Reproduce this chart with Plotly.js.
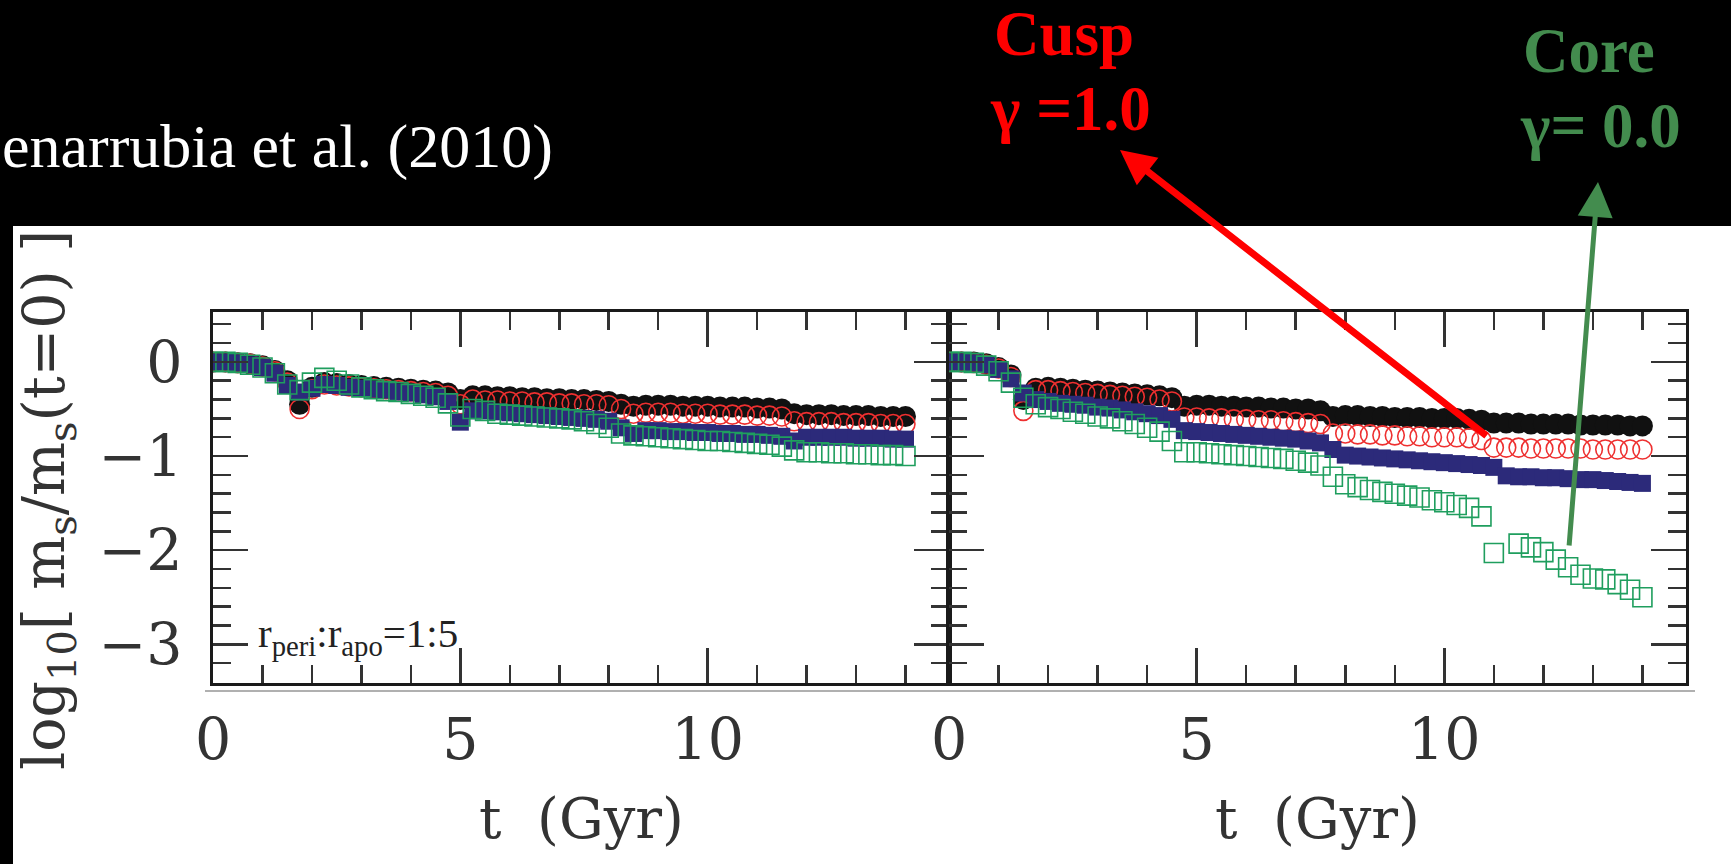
<!DOCTYPE html>
<html><head><meta charset="utf-8">
<script src="https://cdn.plot.ly/plotly-3.0.1.min.js"></script>
<style>html,body{margin:0;padding:0;background:#000;overflow:hidden}#chart{width:1731px;height:864px}</style>
</head><body><div id="chart"></div><script>
// time samples (Gyr)
const timeGyr = [0,0.25,0.5,0.75,1,1.25,1.5,1.75,2,2.25,2.5,2.75,3,3.25,3.5,3.75,4,4.25,4.5,4.75,5,5.25,5.5,5.75,6,6.25,6.5,6.75,7,7.25,7.5,7.75,8,8.25,8.5,8.75,9,9.25,9.5,9.75,10,10.25,10.5,10.75,11,11.25,11.5,11.75,12,12.25,12.5,12.75,13,13.25,13.5,13.75,14];

// Left panel (r_peri:r_apo = 1:5)
const leftBlack = [0,0,-0.01,-0.02,-0.04,-0.09,-0.20,-0.45,-0.27,-0.22,
 -0.23,-0.24,-0.25,-0.26,-0.27,-0.28,-0.29,-0.30,-0.31,-0.33,
 -0.40,-0.36,-0.36,-0.37,-0.37,-0.38,-0.38,-0.39,-0.39,-0.40,
 -0.40,-0.41,-0.42,-0.45,-0.47,-0.46,-0.46,-0.46,-0.47,-0.47,
 -0.47,-0.48,-0.48,-0.48,-0.49,-0.49,-0.50,-0.55,-0.56,-0.56,
 -0.56,-0.57,-0.57,-0.57,-0.58,-0.58,-0.58];
const leftRed = [0,0,-0.01,-0.02,-0.05,-0.10,-0.22,-0.50,-0.29,-0.24,
 -0.25,-0.26,-0.27,-0.28,-0.29,-0.30,-0.31,-0.32,-0.33,-0.36,
 -0.45,-0.40,-0.41,-0.41,-0.42,-0.42,-0.43,-0.43,-0.44,-0.44,
 -0.45,-0.45,-0.46,-0.50,-0.55,-0.54,-0.54,-0.54,-0.55,-0.55,
 -0.55,-0.56,-0.56,-0.56,-0.57,-0.57,-0.58,-0.63,-0.64,-0.64,
 -0.64,-0.65,-0.65,-0.65,-0.66,-0.66,-0.66];
const leftBlue = [0,0,-0.01,-0.03,-0.06,-0.12,-0.25,-0.32,-0.28,-0.24,
 -0.25,-0.27,-0.28,-0.29,-0.30,-0.32,-0.33,-0.35,-0.37,-0.42,
 -0.64,-0.52,-0.52,-0.53,-0.54,-0.55,-0.56,-0.57,-0.58,-0.59,
 -0.60,-0.61,-0.63,-0.70,-0.76,-0.73,-0.73,-0.74,-0.74,-0.75,
 -0.75,-0.76,-0.76,-0.77,-0.77,-0.78,-0.79,-0.84,-0.80,-0.80,
 -0.80,-0.80,-0.81,-0.81,-0.81,-0.82,-0.82];
const leftGreen = [0,0,-0.01,-0.03,-0.06,-0.12,-0.24,-0.30,-0.22,-0.17,
 -0.20,-0.24,-0.27,-0.29,-0.31,-0.32,-0.34,-0.36,-0.38,-0.44,
 -0.58,-0.50,-0.52,-0.55,-0.56,-0.57,-0.58,-0.59,-0.60,-0.61,
 -0.63,-0.66,-0.70,-0.76,-0.78,-0.79,-0.80,-0.81,-0.82,-0.83,
 -0.84,-0.84,-0.85,-0.86,-0.87,-0.88,-0.90,-0.94,-0.96,-0.96,
 -0.97,-0.97,-0.98,-0.98,-0.99,-0.99,-1.00];

// Right panel
const rightBlack = [0,0,0,-0.02,-0.06,-0.14,-0.40,-0.28,-0.27,-0.28,
 -0.29,-0.30,-0.31,-0.32,-0.33,-0.34,-0.35,-0.36,-0.38,-0.47,
 -0.46,-0.46,-0.47,-0.47,-0.48,-0.48,-0.49,-0.49,-0.50,-0.50,
 -0.52,-0.58,-0.57,-0.57,-0.58,-0.58,-0.59,-0.59,-0.59,-0.60,
 -0.60,-0.60,-0.61,-0.62,-0.65,-0.65,-0.65,-0.66,-0.66,-0.66,
 -0.66,-0.67,-0.67,-0.67,-0.67,-0.68,-0.68];
const rightRed = [0,0,-0.01,-0.03,-0.07,-0.16,-0.52,-0.30,-0.30,-0.31,
 -0.32,-0.33,-0.34,-0.35,-0.36,-0.37,-0.38,-0.40,-0.42,-0.59,
 -0.59,-0.60,-0.60,-0.61,-0.61,-0.62,-0.62,-0.63,-0.64,-0.65,
 -0.66,-0.76,-0.76,-0.77,-0.77,-0.78,-0.78,-0.79,-0.79,-0.80,
 -0.80,-0.80,-0.81,-0.83,-0.91,-0.91,-0.91,-0.92,-0.92,-0.92,
 -0.92,-0.92,-0.93,-0.93,-0.93,-0.93,-0.93];
const rightBlue = [0,0,-0.01,-0.03,-0.08,-0.18,-0.33,-0.40,-0.42,-0.44,
 -0.45,-0.46,-0.48,-0.49,-0.51,-0.53,-0.55,-0.57,-0.61,-0.73,
 -0.74,-0.75,-0.76,-0.77,-0.78,-0.79,-0.80,-0.81,-0.82,-0.84,
 -0.86,-0.93,-0.99,-1.00,-1.01,-1.02,-1.03,-1.04,-1.05,-1.06,
 -1.07,-1.08,-1.09,-1.10,-1.12,-1.21,-1.22,-1.22,-1.23,-1.23,
 -1.24,-1.25,-1.25,-1.26,-1.27,-1.28,-1.29];
const rightGreen = [0,0,-0.01,-0.04,-0.10,-0.22,-0.38,-0.45,-0.48,-0.50,
 -0.53,-0.55,-0.58,-0.60,-0.63,-0.66,-0.70,-0.74,-0.84,-0.96,
 -0.96,-0.97,-0.98,-0.99,-1.00,-1.01,-1.02,-1.03,-1.05,-1.07,
 -1.10,-1.22,-1.30,-1.33,-1.36,-1.38,-1.40,-1.42,-1.44,-1.47,
 -1.49,-1.52,-1.55,-1.64,-2.03,null,-1.93,-1.97,-2.02,-2.10,
 -2.18,-2.26,-2.30,-2.31,-2.36,-2.42,-2.50];

const xTickLabels = ['0','5','10'];
const yTickLabels = ['0','\u22121','\u22122','\u22123'];

const W = 1731, H = 864;
const fx = p => p / W;
const fy = p => 1 - p / H;

const styles = {
  black: {symbol:'circle', size:21, color:'#111111', line:{width:0}},
  red:   {symbol:'circle-open', size:19, color:'#ee3030', line:{width:1.6, color:'#ee3030'}},
  blue:  {symbol:'square', size:17, color:'#2c2a7a', line:{width:0}},
  green: {symbol:'square-open', size:19, color:'#1f9e5e', line:{width:1.6, color:'#1f9e5e'}}
};
function tr(y, xa, ya, st){
  return {type:'scatter', mode:'markers', x: timeGyr, y: y, xaxis: xa, yaxis: ya,
          marker: styles[st], hoverinfo:'skip', showlegend:false, cliponaxis:true};
}
const data = [
  tr(leftBlack,'x','y','black'), tr(leftRed,'x','y','red'), tr(leftBlue,'x','y','blue'), tr(leftGreen,'x','y','green'),
  tr(rightBlack,'x2','y2','black'), tr(rightRed,'x2','y2','red'), tr(rightBlue,'x2','y2','blue'), tr(rightGreen,'x2','y2','green')
];

const tickFont = {family:'DejaVu Serif', size:57, color:'#333'};
const common = {
  showgrid:false, zeroline:false, showline:true, linecolor:'#1a1a1a', linewidth:3,
  mirror:'ticks', ticks:'inside', ticklen:35, tickwidth:2.5, tickcolor:'#333', tickfont: tickFont
};
const xMinor = {tick0:0, dtick:1, ticklen:18, tickwidth:2.5, tickcolor:'#333', ticks:'inside', showgrid:false};
const yMinor = {tick0:0, dtick:0.2, ticklen:18, tickwidth:2.5, tickcolor:'#333', ticks:'inside', showgrid:false};
const xDom1 = [fx(213), fx(949)], xDom2 = [fx(949), fx(1686)], yDom = [fy(683), fy(312)];

const titleFont = {family:'DejaVu Serif', size:56, color:'#333'};

const layout = {
  width: W, height: H,
  paper_bgcolor:'#000000', plot_bgcolor:'#ffffff',
  margin:{l:0,r:0,t:0,b:0,pad:0},
  showlegend:false,
  xaxis: Object.assign({}, common, {domain:xDom1, range:[-0.001,14.88], anchor:'y',
          tickmode:'array', tickvals:[0,5,10], ticktext:xTickLabels, minor:xMinor, ticklabelstandoff:5}),
  yaxis: Object.assign({}, common, {domain:yDom, range:[-3.41,0.53], anchor:'x',
          tickmode:'array', tickvals:[0,-1,-2,-3], ticktext:yTickLabels, minor:yMinor, ticklabelstandoff:16}),
  xaxis2: Object.assign({}, common, {domain:xDom2, range:[-0.001,14.88], anchor:'y2',
          tickmode:'array', tickvals:[0,5,10], ticktext:xTickLabels, minor:xMinor, ticklabelstandoff:5}),
  yaxis2: Object.assign({}, common, {domain:yDom, range:[-3.41,0.53], anchor:'x2',
          tickmode:'array', tickvals:[0,-1,-2,-3], showticklabels:false, minor:yMinor}),
  shapes: [
    {type:'rect', xref:'paper', yref:'paper', x0:fx(13), x1:1, y0:0, y1:fy(226),
     fillcolor:'#ffffff', line:{width:0}, layer:'below'},
    {type:'line', xref:'paper', yref:'paper', x0:fx(205), x1:fx(1695), y0:fy(691), y1:fy(691),
     line:{color:'#b0b0b0', width:2}}
  ],
  annotations: [
    {xref:'paper', yref:'paper', x:0, y:fy(146), xanchor:'left', yanchor:'middle', showarrow:false,
     text:'enarrubia et al. (2010)', font:{family:'Liberation Serif', size:62, color:'#ffffff'}},
    {xref:'paper', yref:'paper', x:fx(1064), y:fy(34), xanchor:'center', yanchor:'middle', showarrow:false,
     text:'<b>Cusp</b>', font:{family:'Liberation Serif', size:63, color:'#ff0000'}},
    {xref:'paper', yref:'paper', x:fx(1070), y:fy(109), xanchor:'center', yanchor:'middle', showarrow:false,
     text:'<b>γ =1.0</b>', font:{family:'Liberation Serif', size:63, color:'#ff0000'}},
    {xref:'paper', yref:'paper', x:fx(1589), y:fy(51), xanchor:'center', yanchor:'middle', showarrow:false,
     text:'<b>Core</b>', font:{family:'Liberation Serif', size:63, color:'#438c4e'}},
    {xref:'paper', yref:'paper', x:fx(1600), y:fy(126), xanchor:'center', yanchor:'middle', showarrow:false,
     text:'<b>γ= 0.0</b>', font:{family:'Liberation Serif', size:63, color:'#438c4e'}},
    {xref:'paper', yref:'paper', x:fx(1120), y:fy(150), text:'', showarrow:true, ax:368, ay:287,
     arrowcolor:'#ff0000', arrowwidth:7, arrowhead:2, arrowsize:1, standoff:0},
    {xref:'paper', yref:'paper', x:fx(1598), y:fy(182), text:'', showarrow:true, ax:-29, ay:365,
     arrowcolor:'#438c4e', arrowwidth:5, arrowhead:2, arrowsize:1.4, standoff:0},
    {xref:'paper', yref:'paper', x:fx(48), y:fy(500), xanchor:'center', yanchor:'middle', showarrow:false, textangle:-90,
     text:'log<sub>10</sub>[ m<sub>s</sub>/m<sub>s</sub>(t=0) ]', font:{family:'DejaVu Serif', size:57, color:'#333'}},
    {xref:'paper', yref:'paper', x:fx(581), y:fy(818), xanchor:'center', yanchor:'middle', showarrow:false,
     text:'t\u00a0\u00a0(Gyr)', font:titleFont},
    {xref:'paper', yref:'paper', x:fx(1317), y:fy(818), xanchor:'center', yanchor:'middle', showarrow:false,
     text:'t\u00a0\u00a0(Gyr)', font:titleFont},
    {xref:'paper', yref:'paper', x:fx(256), y:fy(636), xanchor:'left', yanchor:'middle', showarrow:false,
     text:'r<sub>peri</sub>:r<sub>apo</sub>=1:5', font:{family:'Liberation Serif', size:41, color:'#222'}}
  ]
};
Plotly.newPlot('chart', data, layout, {displayModeBar:false, staticPlot:true});
</script></body></html>
